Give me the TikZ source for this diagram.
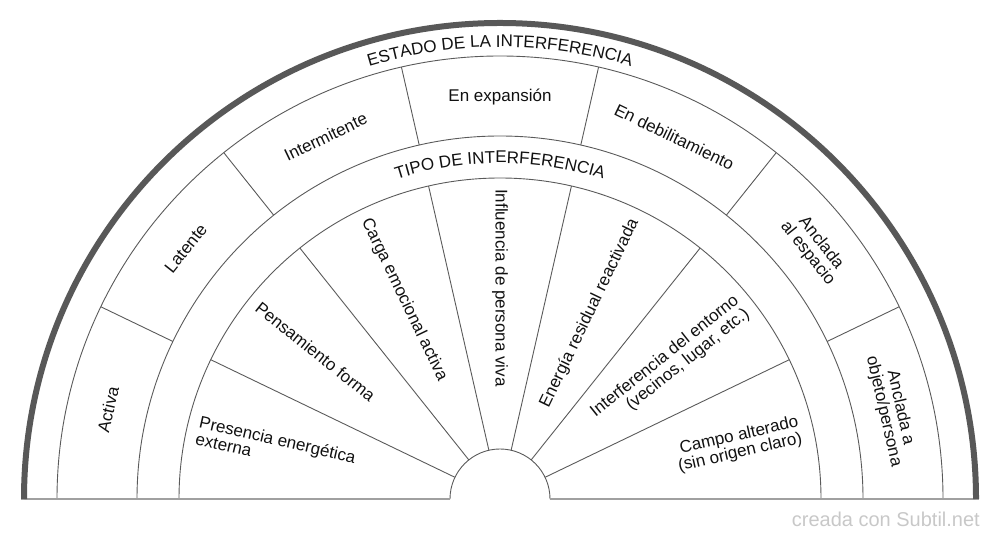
\documentclass[tikz,border=0pt]{standalone}
\usepackage{fontspec}
\setmainfont{Liberation Sans}
\usetikzlibrary{decorations.text}
\definecolor{rimc}{HTML}{585858}
\definecolor{linec}{HTML}{5A5A5A}
\definecolor{basec}{HTML}{A0A0A0}
\definecolor{wmc}{HTML}{C8C8C8}
\definecolor{txtc}{HTML}{111111}
\begin{document}
\begin{tikzpicture}[x=1pt,y=1pt,
  thinline/.style={draw=linec, line width=0.9pt},
  lbl/.style={font=\fontsize{17}{17}\selectfont, text=txtc, inner sep=0pt},
  outerlbl/.style={lbl, align=center, anchor=center},
  innerleft/.style={lbl, align=left, anchor=west},
  innerright/.style={lbl, align=right, anchor=east},
  wmark/.style={font=\fontsize{20}{24}\selectfont, text=wmc, inner sep=0pt, anchor=base east}]
\useasboundingbox (0,0) rectangle (1000,540);
\begin{scope}[shift={(500,41)}]
  % rings
  \draw[thinline] (0:443pt) arc[start angle=0, end angle=180, radius=443pt];
  \draw[thinline] (0:363pt) arc[start angle=0, end angle=180, radius=363pt];
  \draw[thinline] (0:321pt) arc[start angle=0, end angle=180, radius=321pt];
  \draw[thinline] (0:50pt) arc[start angle=0, end angle=180, radius=50pt];
  % dividers
  \foreach \k in {1,...,6}{
    \pgfmathsetmacro{\ang}{\k*180/7}
    \draw[thinline] (\ang:363pt) -- (\ang:443pt);
    \draw[thinline] (\ang:50pt) -- (\ang:321pt);
  }
  % base line
  \draw[draw=basec, line width=2pt] (-479pt,0) -- (-50pt,0);
  \draw[draw=basec, line width=2pt] (50pt,0) -- (479pt,0);
  % outer rim
  \draw[draw=rimc, line width=6pt] (180:476pt) arc[start angle=180, end angle=0, radius=476pt];
  % curved titles
  \path[decorate, decoration={text along path, text align=center,
     text={|\fontsize{17}{20}\selectfont\color{txtc}|ESTADO DE LA INTERFERENCIA}}]
     (180:452pt) arc[start angle=180, end angle=0, radius=452pt];
  \path[decorate, decoration={text along path, text align=center,
     text={|\fontsize{17}{20}\selectfont\color{txtc}|TIPO DE INTERFERENCIA}}]
     (180:336pt) arc[start angle=180, end angle=0, radius=336pt];
  % outer ring labels (estado)
  \node[outerlbl, rotate=77.143]  (e1) at (167.143:402pt) {Activa};
  \node[outerlbl, rotate=51.429]  (e2) at (141.429:402pt) {Latente};
  \node[outerlbl, rotate=25.714]  (e3) at (115.714:402pt) {Intermitente};
  \node[outerlbl]                 (e4) at (90:402pt) {En expansión};
  \node[outerlbl, rotate=-25.714] (e5) at (64.286:402pt) {En debilitamiento};
  \node[outerlbl, rotate=-51.429] (e6) at (38.571:402pt) {Anclada\\al espacio};
  \node[outerlbl, rotate=-77.143] (e7) at (12.857:402pt) {Anclada a\\objeto/persona};
  % inner ring labels (tipo)
  \node[innerleft, rotate=-12.857]  (t1) at (167.143:310pt) {Presencia energética\\externa};
  \node[innerleft, rotate=-38.571]  (t2) at (141.429:310pt) {Pensamiento forma};
  \node[innerleft, rotate=-64.286]  (t3) at (115.714:310pt) {Carga emocional activa};
  \node[innerleft, rotate=-90]      (t4) at (90:310pt) {Influencia de persona viva};
  \node[innerright, rotate=64.286]  (t5) at (64.286:310pt) {Energía residual reactivada};
  \node[innerright, rotate=38.571]  (t6) at (38.571:310pt) {Interferencia del entorno\\(vecinos, lugar, etc.)};
  \node[innerright, rotate=12.857]  (t7) at (12.857:308pt) {Campo alterado\\(sin origen claro)};
\end{scope}
\node[wmark] (wm) at (980,13.5) {creada con Subtil.net};
\end{tikzpicture}
\end{document}
